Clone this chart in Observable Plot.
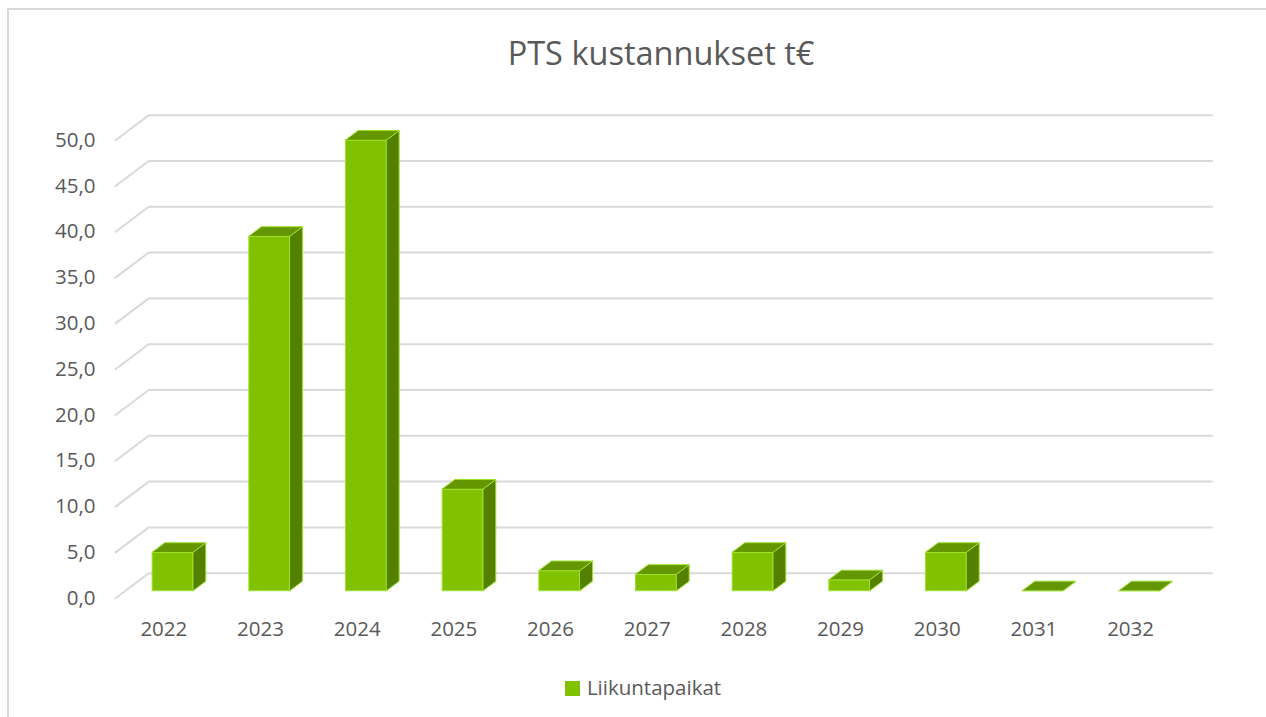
<!DOCTYPE html>
<html>
<head>
<meta charset="utf-8">
<script src="https://cdn.jsdelivr.net/npm/d3@7"></script>
<script src="https://cdn.jsdelivr.net/npm/@observablehq/plot@0.6"></script>
<style>
  html, body { margin: 0; padding: 0; background: #fff; }
  body { width: 1266px; height: 717px; position: relative; overflow: hidden; font-family: "Open Sans", sans-serif; }
  #frame { position: absolute; left: 7px; top: 8px; width: 1300px; height: 760px; border: 2px solid #d9d9d9; box-sizing: border-box; }
  #title { position: absolute; left: 28px; top: 0; width: 1266px; height: 90px; text-align: center; color: #595959; font-size: 32.5px; line-height: 106px; }
  #chart { position: absolute; left: 0; top: 90px; }
  #legend { position: absolute; left: 10px; top: 670px; width: 1266px; text-align: center; color: #595959; font-size: 20.5px; line-height: 34px; }
  #legend .sw { display: inline-block; width: 15px; height: 15px; background: #80c100; vertical-align: -1px; margin-right: 7px; }
</style>
</head>
<body>
<div id="frame"></div>
<div id="title">PTS kustannukset t€</div>
<div id="chart"></div>
<div id="legend"><span class="sw"></span>Liikuntapaikat</div>
<script>
// ---- data ----
const years = ["2022","2023","2024","2025","2026","2027","2028","2029","2030","2031","2032"];
const liikuntapaikat = [4.2, 38.7, 49.2, 11.1, 2.2, 1.8, 4.2, 1.2, 4.2, 0, 0];
const yTicks = [0, 5, 10, 15, 20, 25, 30, 35, 40, 45, 50];

// ---- oblique 3D projection helpers (depth d: 0 = front, 1 = back wall) ----
const DX = 0.344;   // slot units per full depth
const DY = 2.73;    // value units per full depth
const dFront = 0.28, dBack = 0.66, halfW = 0.212;
const px = (slot, d) => slot + DX * d;
const py = (v, d) => v + DY * d;

const bars = years.map((y, i) => ({year: y, i, v: liikuntapaikat[i]}));

// gridlines: front-left -> back-left -> back-right
const grid = yTicks.flatMap(t => [
  {t, x: px(0, 0), y: py(t, 0)},
  {t, x: px(0, 1), y: py(t, 1)},
  {t, x: px(years.length, 1), y: py(t, 1)}
]);

// side faces (vertical edges) -> areaY
const sides = bars.flatMap(b => [
  {year: b.year, x: px(b.i + 0.5 + halfW, dFront), y1: py(0, dFront), y2: py(b.v, dFront)},
  {year: b.year, x: px(b.i + 0.5 + halfW, dBack), y1: py(0, dBack), y2: py(b.v, dBack)}
]);
// top faces (horizontal edges) -> areaX
const tops = bars.flatMap(b => [
  {year: b.year, y: py(b.v, dFront), x1: px(b.i + 0.5 - halfW, dFront), x2: px(b.i + 0.5 + halfW, dFront)},
  {year: b.year, y: py(b.v, dBack), x1: px(b.i + 0.5 - halfW, dBack), x2: px(b.i + 0.5 + halfW, dBack)}
]);
const fronts = bars.map(b => ({
  year: b.year,
  x1: px(b.i + 0.5 - halfW, dFront), x2: px(b.i + 0.5 + halfW, dFront),
  y1: py(0, dFront), y2: py(b.v, dFront)
}));

const fmt = v => v.toFixed(1).replace(".", ",");
const edge = "#9ee02a";

const chart = Plot.plot({
  width: 1266,
  height: 560,
  marginLeft: 0, marginRight: 0, marginTop: 0, marginBottom: 0,
  x: {type: "linear", domain: [0, 11], range: [115, 1178.4], axis: null},
  y: {type: "linear", domain: [0, 50], range: [507.7, 49.7], axis: null},
  style: {fontFamily: "'Open Sans', sans-serif", fontSize: "20px", color: "#595959", background: "transparent"},
  marks: [
    Plot.line(grid, {x: "x", y: "y", z: "t", stroke: "#d9d9d9", strokeWidth: 2}),
    Plot.text(yTicks, {x: 0, y: d => d, text: fmt, textAnchor: "end", dx: -20, fill: "#595959", fontSize: 20.5}),
    Plot.text(years, {x: (d, i) => i + 0.5, y: 0, text: d => d, dy: 31, fill: "#595959", fontSize: 20.5}),
    Plot.rect(fronts, {x1: "x1", x2: "x2", y1: "y1", y2: "y2", fill: "#80c100", stroke: edge, strokeWidth: 1}),
    Plot.areaY(sides, {x: "x", y1: "y1", y2: "y2", z: "year", fill: "#548000", stroke: edge, strokeWidth: 1}),
    Plot.areaX(tops, {y: "y", x1: "x1", x2: "x2", z: "year", fill: "#639600", stroke: edge, strokeWidth: 1})
  ]
});
document.getElementById("chart").appendChild(chart);
</script>
</body>
</html>
